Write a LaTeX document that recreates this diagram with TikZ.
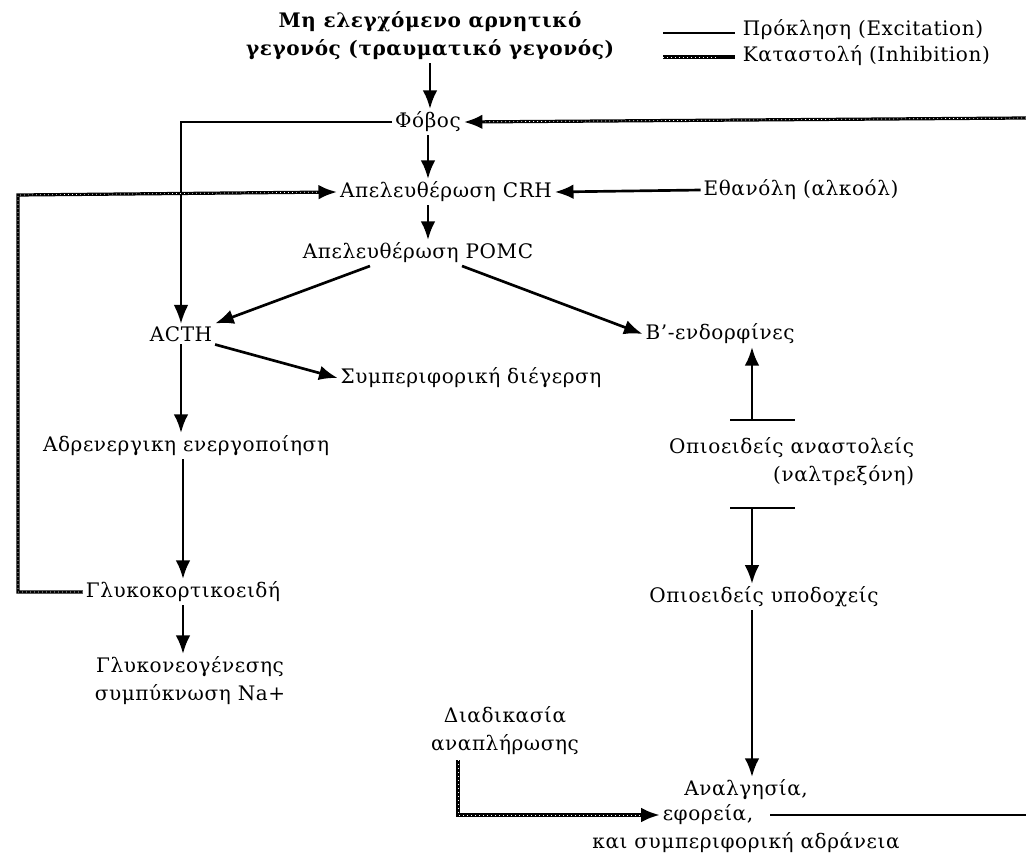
\documentclass[tikz,border=0pt]{standalone}
\usepackage{fontspec}
\setmainfont{DejaVu Serif}[LetterSpace=3]
\usetikzlibrary{calc, arrows.meta, positioning}
\tikzset{>=latex}
\tikzset{
  lbl/.style={inner sep=2pt, font=\fontsize{15}{21}\selectfont},
  exc/.style={-{Latex[length=14pt,width=11pt]}, line width=2pt},
  excthin/.style={-{Latex[length=14pt,width=11pt]}, line width=1.2pt},
  inh/.style={line width=2.4pt,
    postaction={draw=white, line width=0.5pt, dash pattern=on 0.6pt off 2.4pt, -, shorten >=14pt}},
  inharr/.style={inh, -{Latex[length=14pt,width=11pt]}},
  bar/.style={line width=1.2pt}
}

\begin{document}
\begin{tikzpicture}[x=0.75pt, y=-0.75pt]
  \useasboundingbox (0,0) rectangle (1026,867);
  \coordinate (RT1) at (1026,118);
  \coordinate (RT2) at (1026,815);
  \coordinate (LF) at (18,195);
  \coordinate (RP) at (458,760);
  \coordinate (BT) at (752,420);
  \coordinate (BB) at (752,508);

  % NODES
  \node[lbl, align=center, font=\fontsize{15}{21}\selectfont\bfseries] (title) at (430,36)
    {Μη ελεγχόμενο αρνητικό\\γεγονός (τραυματικό γεγονός)};
  \node[lbl] (fobos) at (428,122) {Φόβος};
  \node[lbl] (crh) at (446,192) {Απελευθέρωση CRH};
  \node[lbl] (ethanol) at (801,190) {Εθανόλη (αλκοόλ)};
  \node[lbl] (pomc) at (418,253) {Απελευθέρωση POMC};
  \node[lbl] (acth) at (181,334) {ACTH};
  \node[lbl] (bendo) at (720,334) {Β’-ενδορφίνες};
  \node[lbl] (behav) at (471,378) {Συμπεριφορική διέγερση};
  \node[lbl] (adren) at (186,446) {Αδρενεργικη ενεργοποίηση};
  \node[lbl] (gluco) at (183,592) {Γλυκοκορτικοειδή};
  \node[lbl, align=center] (gneo) at (190,681) {Γλυκονεογένεσης\\συμπύκνωση Na+};
  \node[lbl, align=right, anchor=east] (opanta) at (917,462) {Οπιοειδείς αναστολείς\\(ναλτρεξόνη)};
  \node[lbl] (opypo) at (764,597) {Οπιοειδείς υποδοχείς};
  \node[lbl, align=center] (replen) at (505,731) {Διαδικασία\\αναπλήρωσης};
  \node[lbl] (ana1) at (746,790) {Αναλγησία,};
  \node[lbl] (ana2) at (708,815) {εφορεία,};
  \node[lbl] (ana3) at (746,843) {και συμπεριφορική αδράνεια};

  % LEGEND
  \coordinate (LE1) at (663,33);
  \coordinate (LE2) at (735,33);
  \coordinate (LI1) at (663,57);
  \coordinate (LI2) at (735,57);
  \draw[bar] (LE1) -- (LE2);
  \draw[inh] (LI1) -- (LI2);
  \node[lbl, anchor=west] (lexc) at (740,30) {Πρόκληση (Excitation)};
  \node[lbl, anchor=west] (linh) at (740,56) {Καταστολή (Inhibition)};

  % MAIN CHAIN
  \draw[exc] (title.south) -- (title.south |- fobos.north);
  \draw[exc] (fobos.south) -- (fobos.south |- crh.north);
  \draw[exc] (fobos.south |- crh.south) -- (fobos.south |- pomc.north);
  \draw[exc] (ethanol.west) -- (crh.east);
  \draw[exc] ($(pomc.south)+(-48,0)$) -- (acth.north east);
  \draw[exc] ($(pomc.south)+(44,0)$) -- (bendo.west);
  \draw[excthin] (fobos.west) -| (acth.north);
  \draw[exc] (acth.south east) -- (behav.west);
  \draw[exc] (acth.south) -- (acth.south |- adren.north);
  \draw[exc] (adren.south -| gluco) -- (gluco.north);
  \draw[exc] (gluco.south) -- (gluco.south |- gneo.north);

  % FEEDBACK
  \draw[inharr] (RT1) -- (fobos.east);
  \draw[inharr] (gluco.west) -| (LF) -- (crh.west);
  \draw[inharr] (RP) |- (ana2.west);
  \draw[bar, line width=1.5pt] ($(ana2.east)+(14,0)$) -- (RT2);

  % OPIOIDS
  \draw[bar] ($(BT)+(-22,0)$) -- ++(65,0);
  \draw[exc] (BT) -- (BT |- bendo.south);
  \draw[bar] ($(BB)+(-22,0)$) -- ++(65,0);
  \draw[exc] (BB) -- (BB |- opypo.north);
  \draw[exc] (BB |- opypo.south) -- (BB |- ana1.north);
\end{tikzpicture}
\end{document}
